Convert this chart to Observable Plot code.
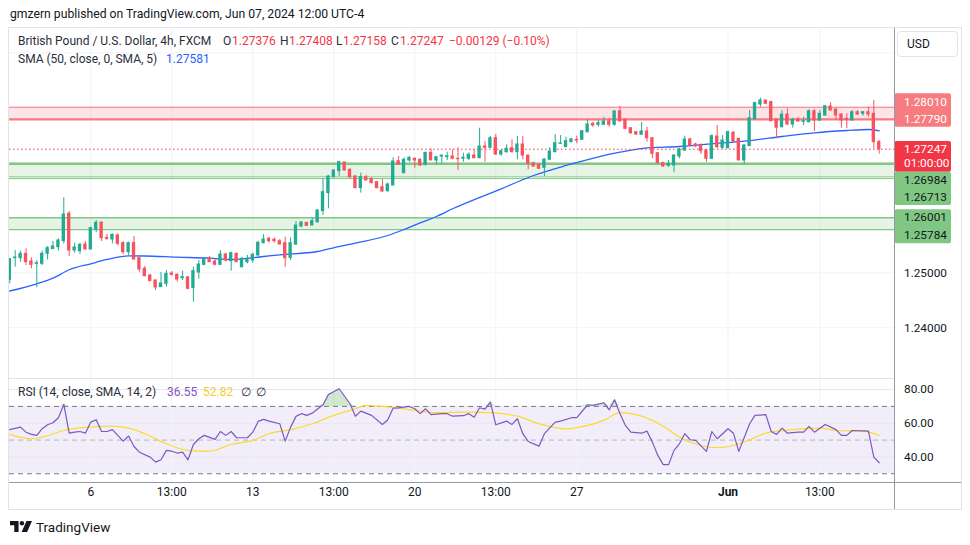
<!DOCTYPE html>
<html>
<head>
<meta charset="utf-8">
<script src="https://cdn.jsdelivr.net/npm/d3@7"></script>
<script src="https://cdn.jsdelivr.net/npm/@observablehq/plot@0.6"></script>
<style>
  html,body{margin:0;padding:0;background:#fff;}
  #root{position:relative;width:970px;height:545px;overflow:hidden;font-family:Roboto,"Liberation Sans",sans-serif;color:#131722;}
  .abs{position:absolute;white-space:nowrap;}
  .t12{font-size:12px;line-height:16px;}
  #frame{left:8px;top:27px;width:954px;height:483px;border:1px solid #e0e3eb;box-sizing:border-box;}
  .line{position:absolute;}
  #main,#rsi{position:absolute;left:0;}
  #main{top:27px;} #rsi{top:378px;}
  svg{display:block;}
</style>
</head>
<body>
<div id="root">
  <div class="abs" id="frame"></div>
  <div id="main"></div>
  <div id="rsi"></div>
  <div class="line" style="left:9px;top:378px;width:885px;height:1px;background:#e0e3eb"></div>
  <div class="line" style="left:9px;top:482px;width:952px;height:1px;background:#9598a1"></div>
  <div class="line" style="left:894px;top:28px;width:1px;height:481px;background:#9598a1"></div>
  <div class="abs" style="left:10px;top:6px;color:#131722;font-size:12.2px;line-height:16px">gmzern published on TradingView.com, Jun 07, 2024 12:00 UTC-4</div>
  <div class="abs" style="left:897px;top:31px;width:61px;height:26px;border:1px solid #e0e3eb;border-radius:4px;box-sizing:border-box;font-size:12px;line-height:24px;padding-left:9px;background:#fff">USD</div>
  <div id="leg1" class="abs t12" style="left:0;top:33px;width:890px;height:16px"></div>
  <div id="leg2" class="abs t12" style="left:0;top:51px;width:890px;height:16px"></div>
  <div id="leg3" class="abs t12" style="left:0;top:384px;width:890px;height:16px"></div>
  <div class="abs" style="left:10px;top:521px;">
    <svg width="22" height="11" viewBox="0 0 36 18"><path d="M0 0h14v18h-7v-11h-7z" fill="#131722"/><circle cx="19.5" cy="3.6" r="3.6" fill="#131722"/><path d="M27 0h9l-8 18h-9z" fill="#131722"/></svg>
  </div>
  <div class="abs" style="left:36px;top:518px;font-size:13.5px;line-height:18px;color:#131722">TradingView</div>
</div>
<script>
// ---------- data ----------
const openP = [1.2487,1.25266,1.25266,1.25345,1.25205,1.25163,1.25163,1.25345,1.2543,1.25466,
1.25575,1.26072,1.25405,1.25393,1.25515,1.25424,1.25787,1.25914,1.25636,1.25605,
1.25678,1.25539,1.25375,1.25539,1.25266,1.25072,1.24951,1.2486,1.24739,1.24799,
1.24987,1.24963,1.24902,1.24915,1.24721,1.25005,1.25145,1.2526,1.25205,1.25145,
1.25333,1.25212,1.25345,1.25102,1.25193,1.25224,1.25315,1.25539,1.25617,1.25599,
1.25575,1.25539,1.25272,1.25514,1.25842,1.25908,1.2586,1.25921,1.26121,1.26448,
1.26739,1.26848,1.27005,1.26872,1.26751,1.26539,1.26739,1.26708,1.26648,1.26557,
1.26484,1.26587,1.27029,1.26812,1.27042,1.27072,1.27054,1.26957,1.27181,1.27042,
1.27114,1.27102,1.27115,1.27073,1.27073,1.27073,1.27133,1.27084,1.27296,1.27273,
1.27447,1.27151,1.27193,1.27265,1.27193,1.27333,1.27133,1.26993,1.26964,1.26909,
1.27055,1.27193,1.27345,1.27284,1.27375,1.27418,1.27418,1.27556,1.27709,1.2769,
1.27691,1.27751,1.27691,1.27938,1.27782,1.27629,1.27556,1.27509,1.27569,1.27447,
1.27175,1.26993,1.26945,1.26951,1.27115,1.27224,1.27424,1.27333,1.27315,1.27224,
1.27073,1.27478,1.27273,1.27265,1.27545,1.27436,1.27042,1.27302,1.27787,1.2806,
1.28133,1.28102,1.27787,1.27647,1.27878,1.27696,1.27787,1.27745,1.27738,1.27938,
1.27769,1.2786,1.28024,1.27969,1.27878,1.278,1.27769,1.2792,1.27891,1.2792,
1.27891,1.27376];
const highP = [1.2526,1.25405,1.25393,1.25436,1.25272,1.25224,1.25393,1.25478,1.25569,1.25617,
1.26363,1.26114,1.25539,1.25539,1.25569,1.2583,1.25951,1.2592,1.25696,1.25708,
1.25708,1.25569,1.25557,1.2566,1.25284,1.25115,1.24969,1.24872,1.25005,1.25042,
1.25024,1.24981,1.2503,1.24933,1.25102,1.25224,1.25266,1.25296,1.25236,1.25405,
1.25357,1.25375,1.25357,1.25284,1.25315,1.25357,1.25575,1.25696,1.25648,1.25636,
1.25605,1.25648,1.25636,1.25933,1.25933,1.25914,1.25999,1.26145,1.26708,1.26769,
1.26872,1.2703,1.27011,1.2689,1.26769,1.26812,1.26769,1.26727,1.2666,1.26696,
1.2663,1.2709,1.27114,1.2709,1.27114,1.2709,1.27072,1.27193,1.27254,1.27114,
1.27133,1.27193,1.27236,1.27273,1.27175,1.27182,1.27236,1.27629,1.27387,1.27478,
1.27515,1.27236,1.27327,1.27418,1.27478,1.27478,1.27133,1.27011,1.26982,1.27073,
1.27273,1.27515,1.27496,1.27465,1.27447,1.27484,1.27587,1.27782,1.27738,1.27769,
1.27829,1.278,1.27951,1.28024,1.278,1.27636,1.27569,1.27733,1.27647,1.27455,
1.27182,1.27011,1.27042,1.27145,1.27265,1.27484,1.27447,1.27356,1.27345,1.27236,
1.27509,1.27678,1.27496,1.27575,1.27569,1.27436,1.27327,1.27951,1.28102,1.28175,
1.28133,1.2812,1.27787,1.27951,1.27982,1.27811,1.27829,1.27829,1.27964,1.27964,
1.27951,1.28042,1.28091,1.27982,1.27891,1.27891,1.27951,1.27951,1.27933,1.28011,
1.28133,1.27408];
const lowP = [1.248,1.25102,1.25193,1.25133,1.25072,1.24727,1.25133,1.25236,1.25424,1.25393,
1.25527,1.25296,1.25357,1.25333,1.25418,1.25418,1.25727,1.25569,1.25587,1.25527,
1.2549,1.25333,1.25315,1.25236,1.25012,1.24927,1.24842,1.24678,1.24733,1.24739,
1.24939,1.2483,1.2486,1.2469,1.24466,1.24884,1.25127,1.25187,1.25127,1.25133,
1.25193,1.2503,1.25193,1.2509,1.25163,1.25175,1.25284,1.25527,1.25539,1.25539,
1.25514,1.25102,1.25224,1.25496,1.25818,1.25842,1.2586,1.25902,1.26042,1.26163,
1.26727,1.26751,1.26848,1.26708,1.26527,1.26448,1.26678,1.26618,1.26527,1.26466,
1.26466,1.26587,1.26951,1.268,1.27011,1.26902,1.26933,1.26957,1.27042,1.26969,
1.26975,1.27042,1.27055,1.2686,1.27011,1.27042,1.27073,1.27073,1.27011,1.27255,
1.27133,1.2712,1.27175,1.27182,1.27055,1.27055,1.26873,1.2692,1.26879,1.26751,
1.27042,1.27182,1.27333,1.27284,1.27364,1.27345,1.27405,1.27545,1.27647,1.27647,
1.27678,1.27647,1.27665,1.27738,1.276,1.27515,1.27496,1.27496,1.27375,1.27073,
1.26982,1.2692,1.2692,1.26818,1.27073,1.27205,1.27302,1.27273,1.27151,1.27011,
1.2706,1.27255,1.27242,1.27255,1.27364,1.27042,1.26964,1.27296,1.27782,1.28011,
1.28055,1.27751,1.27436,1.27636,1.27678,1.27629,1.27738,1.27678,1.27727,1.27569,
1.27751,1.27847,1.27938,1.27769,1.27629,1.27618,1.27756,1.2786,1.27847,1.27829,
1.27255,1.27158];
const closeP = [1.2525,1.25278,1.25345,1.25193,1.25145,1.25175,1.25345,1.25448,1.25478,1.25587,
1.2606,1.25405,1.2546,1.25508,1.25424,1.25811,1.25908,1.2563,1.25617,1.2569,
1.25527,1.25375,1.25539,1.25242,1.2506,1.24939,1.24848,1.24733,1.24805,1.24981,
1.24963,1.24878,1.24921,1.24709,1.2503,1.25151,1.25248,1.25193,1.25145,1.25333,
1.25224,1.25357,1.25193,1.25254,1.25236,1.25327,1.25545,1.25605,1.25575,1.25575,
1.25514,1.25266,1.25539,1.2586,1.25914,1.25854,1.25939,1.26133,1.26466,1.26751,
1.2686,1.27011,1.2686,1.26739,1.26539,1.26739,1.26678,1.2663,1.26539,1.26478,
1.26605,1.27023,1.26963,1.27054,1.2709,1.27042,1.26951,1.27181,1.27042,1.27102,
1.27133,1.2712,1.27073,1.27065,1.27091,1.27145,1.27084,1.27296,1.27273,1.27447,
1.27151,1.27211,1.27255,1.27193,1.27333,1.27133,1.26982,1.26933,1.26891,1.2706,
1.27205,1.27356,1.27351,1.27393,1.27424,1.27405,1.27575,1.27696,1.27678,1.2772,
1.27751,1.27691,1.27933,1.27756,1.27618,1.27538,1.27515,1.27569,1.27447,1.27164,
1.26993,1.26933,1.26982,1.27133,1.27242,1.27424,1.27315,1.27302,1.27211,1.27073,
1.27484,1.27284,1.27405,1.27556,1.27387,1.27042,1.27315,1.27811,1.28084,1.28133,
1.28073,1.27756,1.27636,1.27878,1.27696,1.27782,1.27751,1.27756,1.27938,1.27769,
1.27891,1.28029,1.27951,1.2786,1.27769,1.27782,1.2792,1.27878,1.2792,1.27878,
1.27376,1.27247];

// SMA(50) overlay, read at sample bars
const smaIdx = [0,5,8,11,15,18,22,25,31,37,41,47,50,57,60,64,70,73,76,79,82,91,97,103,109,113,118,124,130,137,143,149,155,159,161];
const smaVal = [1.24669,1.248,1.24902,1.25055,1.25164,1.25242,1.25309,1.25305,1.25284,1.25265,
1.25242,1.25296,1.25327,1.25387,1.25455,1.25538,1.25678,1.25787,1.25909,1.26024,
1.26164,1.26527,1.26769,1.26951,1.27109,1.27193,1.27273,1.27296,1.27345,1.27405,
1.27478,1.27545,1.27587,1.27605,1.27581];

// RSI(14) and its SMA(14)
const rsiIdx = [0,2,3,4,5,6,7,8,9,10,11,12,13,14,15,16,17,18,19,21,22,23,24,26,27,28,29,30,31,32,33,34,35,36,38,39,40,41,42,44,45,46,47,48,50,51,52,53,54,55,56,58,59,61,63,64,65,67,69,70,71,72,74,75,76,77,78,80,81,82,84,85,86,87,88,89,90,92,93,94,95,96,98,99,101,102,104,105,107,108,110,111,112,113,114,115,117,118,119,120,121,122,123,124,125,126,127,129,130,131,132,133,134,135,137,138,140,141,142,143,144,146,147,148,149,151,153,154,155,156,159,160,161];
const rsiVal = [56.2,57.7,54.7,53.4,52.8,56.8,59.1,60.3,63.3,71.2,54.1,54.7,55.1,54.1,60.7,62.1,55.1,55.1,56.2,49.4,
52.4,46.2,42.8,39.9,36.9,38.3,43.9,43.4,42.3,42.8,38.3,47.4,50.8,52.8,50.4,55.1,52.8,55.1,51.4,51.4,
54.7,61.1,62.3,61.3,59.7,49.4,57.7,64.1,65.7,64.7,66,71,77.1,80.5,71.6,64.2,67.2,64.7,59.3,62.1,
69,69.1,70,68.6,65.7,68.6,65.1,65.7,65.7,64.2,64.5,65.7,63.6,69.2,68.4,72.6,59.1,61.3,59.3,62.7,
53.8,49.2,46.4,53.8,60.7,61.3,63.3,63.3,71,70.6,72.2,68,74,65.7,58.7,54.7,54.1,55.3,48.8,40.9,
35.4,35.4,43.9,47.8,53.8,50.2,49.8,43.3,55.1,50.8,53.8,56.7,54.1,43.3,59.7,64.7,65.1,55.1,53.4,57.1,
54.1,54.7,54.7,58.1,54.7,59.3,56.2,52.8,52.8,55.7,55.3,39.9,36.55];
const maIdx = [0,4,6,10,13,19,22,25,29,33,37,41,45,48,52,56,60,64,66,69,72,76,79,84,89,94,98,103,107,110,113,116,119,122,124,128,131,134,137,140,145,150,153,158,161];
const maVal = [53.4,50.8,51.8,55.7,57.3,58.3,57.1,53.8,47.8,43.9,43.4,47.4,49.8,53.8,56.2,59.7,64.7,68.6,70.6,70,
69,67.2,66.3,66.6,66.3,64.2,59.7,56.7,58.7,61.7,66.3,65.1,61.7,56.2,51.8,46.8,45.5,46.8,50.2,54.1,
56.2,57.1,55.7,55.3,52.82];

// levels (horizontal zones)
const redZone = [1.27790, 1.28010];
const greenZoneA = [1.26745, 1.26984];
const greenLineA = 1.26713;
const greenZoneB = [1.25784, 1.26001];

// axis ticks
const timeTickIdx = [15,30,45,60,75,90,105,133,150];
const timeTickLbl = ["6","13:00","13","13:00","20","13:00","27","Jun","13:00"];
const priceTicks = [1.24,1.25];
const priceGrid = [1.24,1.25,1.26,1.27,1.28,1.29];
const rsiTicks = [40,60,80];
const rsiBands = [30,50,70];

// ---------- styles ----------
const UP = "#22ab94", DN = "#f7525f";
const RED_L = "#f77c80", GREEN_L = "#81c784", GRID = "#f0f3fa";
const FONT = "Roboto, 'Liberation Sans', sans-serif";
const xDomain = [-0.056, 163.83];
const W = 970, ML = 9, MR = 76;

const bars = closeP.map((c, i) => ({i, o: openP[i], h: highP[i], l: lowP[i], c}));
const sma = smaIdx.map((i, k) => ({i, v: smaVal[k]}));
const rsi = rsiIdx.map((i, k) => ({i, v: rsiVal[k]}));
const ma = maIdx.map((i, k) => ({i, v: maVal[k]}));
const timeTicks = timeTickIdx.map((i, k) => ({i, label: timeTickLbl[k]}));
const last = bars[bars.length - 1];
const prev = bars[bars.length - 2];
const f5 = d3.format(".5f");

const boxInset = {insetLeft: 885.5, insetRight: -57};
function labelBox(vals, top, bottom, fill) {
  return Plot.rect([vals], {y1: d => d[0], y2: d => d[d.length - 1], fill, rx: 2, ...boxInset, insetTop: top, insetBottom: bottom});
}
function labelText(v, text, dy, fill) {
  return Plot.text([v], {y: d => d, text: () => text, frameAnchor: "right", dx: 9.5, dy, textAnchor: "start", fill, fontSize: 11.8});
}

const main = Plot.plot({
  width: W, height: 351, marginLeft: ML, marginRight: MR, marginTop: 0, marginBottom: 0,
  x: {domain: xDomain, axis: null},
  y: {domain: [1.23078, 1.2946], axis: null},
  color: {type: "identity"},
  style: {background: "transparent", fontFamily: FONT, fontSize: "11.8px", overflow: "visible"},
  marks: [
    Plot.ruleX(timeTickIdx, {x: d => d, stroke: GRID}),
    Plot.ruleY(priceGrid, {y: d => d, stroke: GRID}),
    // zones
    Plot.rect([redZone], {y1: d => d[0], y2: d => d[1], fill: "#f23645", fillOpacity: 0.13}),
    Plot.ruleY([redZone[1]], {y: d => d, stroke: RED_L, strokeWidth: 1}),
    Plot.ruleY([redZone[0]], {y: d => d, stroke: RED_L, strokeWidth: 2.2}),
    Plot.rect([greenZoneA], {y1: d => d[0], y2: d => d[1], fill: "#4caf50", fillOpacity: 0.14}),
    Plot.ruleY([greenZoneA[0], greenLineA], {y: d => d, stroke: GREEN_L, strokeWidth: 1}),
    Plot.ruleY([greenZoneA[1]], {y: d => d, stroke: GREEN_L, strokeWidth: 2.4}),
    Plot.rect([greenZoneB], {y1: d => d[0], y2: d => d[1], fill: "#4caf50", fillOpacity: 0.14}),
    Plot.ruleY(greenZoneB, {y: d => d, stroke: GREEN_L, strokeWidth: 1.3}),
    // SMA
    Plot.line(sma, {x: "i", y: "v", stroke: "#2962ff", strokeWidth: 1.3, curve: "monotone-x", clip: true}),
    // last price dotted line
    Plot.ruleY([last.c], {y: d => d, stroke: "#f23645", strokeWidth: 1, strokeDasharray: "1.5,2.5"}),
    // candles
    Plot.ruleX(bars, {x: "i", y1: "l", y2: "h", stroke: d => d.c >= d.o ? UP : DN, strokeWidth: 1, clip: true}),
    Plot.rect(bars, {x1: d => d.i - 0.31, x2: d => d.i + 0.31, y1: d => Math.min(d.o, d.c), y2: d => Math.max(d.o, d.c),
      fill: d => d.c >= d.o ? UP : DN, insetTop: -0.5, insetBottom: -0.5, clip: true}),
    // price axis
    Plot.text(priceTicks, {y: d => d, text: d => f5(d), frameAnchor: "right", dx: 9.5, textAnchor: "start", fill: "#131722"}),
    // price labels
    labelBox(redZone.slice().reverse(), -13.45, -7.85, RED_L),
    labelText(redZone[1], f5(redZone[1]), -5, "#ffffff"),
    labelText(redZone[0], f5(redZone[0]), -0.5, "#ffffff"),
    labelBox([last.c], -7.7, -23, "#f23645"),
    labelText(last.c, f5(last.c), 0, "#ffffff"),
    labelText(last.c, "01:00:00", 14, "#ffffff"),
    labelBox([greenZoneA[1], greenLineA], 8.5, -26.9, GREEN_L),
    labelText(greenZoneA[1], f5(greenZoneA[1]), 16.1, "#131722"),
    labelText(greenLineA, f5(greenLineA), 18.6, "#131722"),
    labelBox(greenZoneB.slice().reverse(), -7.9, -14.1, GREEN_L),
    labelText(greenZoneB[1], f5(greenZoneB[1]), -0.5, "#131722"),
    labelText(greenZoneB[0], f5(greenZoneB[0]), 5.1, "#131722")
  ]
});
document.getElementById("main").appendChild(main);

const rsiPlot = Plot.plot({
  width: W, height: 132, marginLeft: ML, marginRight: MR, marginTop: 0, marginBottom: 28,
  x: {domain: xDomain, axis: null},
  y: {domain: [24.8, 86.6], axis: null},
  style: {background: "transparent", fontFamily: FONT, fontSize: "12px", overflow: "visible"},
  marks: [
    Plot.rect([rsiBands], {y1: d => d[0], y2: d => d[2], fill: "#7e57c2", fillOpacity: 0.1}),
    Plot.ruleX(timeTickIdx, {x: d => d, stroke: GRID}),
    Plot.ruleY(rsiTicks, {y: d => d, stroke: "#e9e4f5"}),
    Plot.ruleY([rsiBands[0], rsiBands[2]], {y: d => d, stroke: "#787b86", strokeDasharray: "5,4"}),
    Plot.ruleY([rsiBands[1]], {y: d => d, stroke: "#b2b5be", strokeDasharray: "5,4"}),
    Plot.areaY(rsi, {x: "i", y1: () => rsiBands[2], y2: d => Math.max(rsiBands[2], d.v), fill: "#4caf50", fillOpacity: 0.28}),
    Plot.line(ma, {x: "i", y: "v", stroke: "#fdd835", strokeWidth: 1.2, curve: "monotone-x"}),
    Plot.line(rsi, {x: "i", y: "v", stroke: "#7e57c2", strokeWidth: 1.2}),
    Plot.text(rsiTicks, {y: d => d, text: d => d.toFixed(2), frameAnchor: "right", dx: 9.5, textAnchor: "start", fill: "#131722", fontSize: 11.8}),
    Plot.text(timeTicks.filter(d => d.label !== "Jun"), {x: "i", text: "label", frameAnchor: "bottom", dy: 13, fill: "#131722"}),
    Plot.text(timeTicks.filter(d => d.label === "Jun"), {x: "i", text: "label", frameAnchor: "bottom", dy: 13, fill: "#131722", fontWeight: "bold"})
  ]
});
document.getElementById("rsi").appendChild(rsiPlot);

// ---------- legends ----------
function put(id, items) {
  const el = document.getElementById(id);
  for (const [left, text, color] of items) {
    const s = document.createElement("span");
    s.className = "abs";
    s.style.left = left + "px";
    s.style.top = "0px";
    s.style.color = color;
    s.textContent = text;
    el.appendChild(s);
  }
}
const chg = last.c - prev.c;
const LEG = "#2a2e39", VAL = "#f23645";
put("leg1", [
  [18, "British Pound / U.S. Dollar, 4h, FXCM", LEG],
  [223, "O", LEG], [232, f5(last.o), VAL],
  [280, "H", LEG], [289, f5(last.h), VAL],
  [336, "L", LEG], [343, f5(last.l), VAL],
  [391, "C", LEG], [400, f5(last.c), VAL],
  [449, (chg < 0 ? "\u2212" : "+") + Math.abs(chg).toFixed(5) + " (" + (chg < 0 ? "\u2212" : "+") + Math.abs(chg / prev.c * 100).toFixed(2) + "%)", VAL]
]);
put("leg2", [
  [18, "SMA (50, close, 0, SMA, 5)", LEG],
  [166, f5(smaVal[smaVal.length - 1]), "#2962ff"]
]);
put("leg3", [
  [18, "RSI (14, close, SMA, 14, 2)", LEG],
  [167, rsiVal[rsiVal.length - 1].toFixed(2), "#7e57c2"],
  [203, maVal[maVal.length - 1].toFixed(2), "#f2cf1f"],
  [241, "\u2205", LEG], [256, "\u2205", LEG]
]);
</script>
</body>
</html>
